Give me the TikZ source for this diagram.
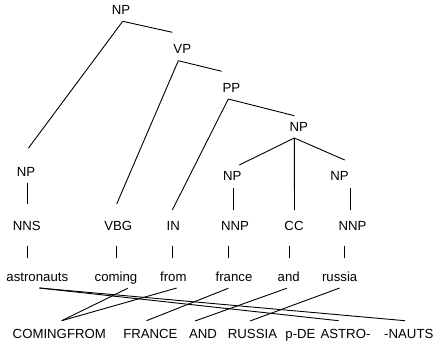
\documentclass[tikz,border=0pt]{standalone}
\usepackage{fontspec}
\setmainfont{Liberation Sans}
\usetikzlibrary{calc}

\begin{document}
\begin{tikzpicture}[x=1pt,y=-1pt,
	lbl/.style={inner sep=0pt,anchor=base,font=\fontsize{13.2}{15}\selectfont},
	edge/.style={line width=0.9pt}]
	\useasboundingbox (0,0) rectangle (438,345);
	% tree
	\node[lbl] (np0) at (121,15) {NP};
	\node[lbl] (vp) at (182.3,53) {VP};
	\node[lbl] (pp) at (231.3,92.5) {PP};
	\node[lbl] (np1) at (298.7,131.5) {NP};
	\node[lbl] (npa) at (26,176) {NP};
	\node[lbl] (npf) at (232.3,180.5) {NP};
	\node[lbl] (npr) at (339.5,180.5) {NP};
	\node[lbl] (nns) at (26.7,230.7) {NNS};
	\node[lbl] (vbg) at (118.3,230.7) {VBG};
	\node[lbl] (in) at (173.3,230.7) {IN};
	\node[lbl] (nnpf) at (235,230.7) {NNP};
	\node[lbl] (cc) at (294,230.7) {CC};
	\node[lbl] (nnpr) at (352.5,230.7) {NNP};
	% words
	\node[lbl] (astronauts) at (37.3,281.7) {astronauts};
	\node[lbl] (coming) at (116,281.7) {coming};
	\node[lbl] (from) at (173.3,281.7) {from};
	\node[lbl] (france) at (234,281.7) {france};
	\node[lbl] (and) at (288.7,281.7) {and};
	\node[lbl] (russia) at (339.7,281.7) {russia};
	% target words
	\node[lbl] (bcf) at (59.3,338.3) {COMINGFROM};
	\node[lbl] (bfr) at (150.4,338.3) {FRANCE};
	\node[lbl] (band) at (203,338.3) {AND};
	\node[lbl] (bru) at (252.5,338.3) {RUSSIA};
	\node[lbl] (bde) at (300.5,338.3) {p-DE};
	\node[lbl] (bas) at (345.5,338.3) {ASTRO-};
	\node[lbl] (bna) at (408.8,338.3) {-NAUTS};

	\draw[edge] ($(np0.base)+(1.7,6.3)$)--($(npa.base)+(2.3,-27.7)$);
	\draw[edge] ($(np0.base)+(1.7,6.3)$)--($(vp.base)+(-10,-20.7)$);
	\draw[edge] ($(vp.base)+(-4,7.7)$)--($(vbg.base)+(-1.6,-26.7)$);
	\draw[edge] ($(vp.base)+(-4,7.7)$)--($(pp.base)+(-9.6,-21.2)$);
	\draw[edge] ($(pp.base)+(-3,6.5)$)--($(in.base)+(-1,-20.7)$);
	\draw[edge] ($(pp.base)+(-3,6.5)$)--($(np1.base)+(-4.4,-15.8)$);
	\draw[edge] ($(np1.base)+(-4.4,6.5)$)--($(npf.base)+(7,-15.5)$);
	\draw[edge] ($(np1.base)+(-4.4,6.5)$)--($(cc.base)+(0.5,-20.7)$);
	\draw[edge] ($(np1.base)+(-4.4,6.5)$)--($(npr.base)+(5.2,-20.5)$);
	\draw[edge] ($(npa.base)+(1.7,6.7)$)--($(nns.base)+(1,-26.7)$);
	\draw[edge] ($(npf.base)+(1,7.8)$)--($(nnpf.base)+(-1.7,-20.7)$);
	\draw[edge] ($(npr.base)+(10.8,7.8)$)--($(nnpr.base)+(-2.2,-20.7)$);
	% preterminal to word
	\draw[edge] ($(nns.base)+(1,15.3)$)--($(astronauts.base)+(-9.6,-23.4)$);
	\draw[edge] ($(vbg.base)+(-1.6,15.3)$)--($(coming.base)+(0.7,-23.4)$);
	\draw[edge] ($(in.base)+(-1,15.3)$)--($(from.base)+(-1,-23.4)$);
	\draw[edge] ($(nnpf.base)+(-6.7,15.3)$)--($(france.base)+(-5.7,-23.4)$);
	\draw[edge] ($(cc.base)+(-5,15.3)$)--($(and.base)+(0.3,-23.4)$);
	\draw[edge] ($(nnpr.base)+(-7.8,15.3)$)--($(russia.base)+(5,-23.4)$);
	% alignment
	\draw[edge] ($(astronauts.base)+(2,6.3)$)--($(bas.base)+(-7,-17.6)$);
	\draw[edge] ($(astronauts.base)+(2,6.3)$)--($(bna.base)+(-3.8,-17.6)$);
	\draw[edge] ($(coming.base)+(11.7,6.6)$)--($(bcf.base)+(2.4,-17.6)$);
	\draw[edge] ($(from.base)+(3.4,6.3)$)--($(bcf.base)+(2.4,-17.6)$);
	\draw[edge] ($(france.base)+(-5.7,6.6)$)--($(bfr.base)+(-3.9,-17.6)$);
	\draw[edge] ($(and.base)+(-2,6.6)$)--($(band.base)+(-8,-17.3)$);
	\draw[edge] ($(russia.base)+(0,6.3)$)--($(bru.base)+(-2.5,-17.3)$);
\end{tikzpicture}
\end{document}
